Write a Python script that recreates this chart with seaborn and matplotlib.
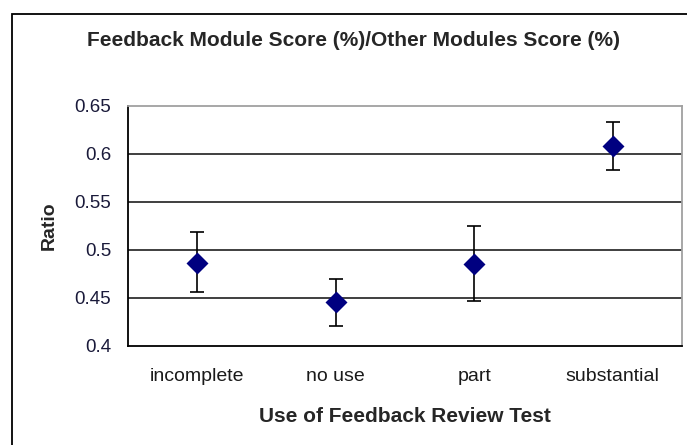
import numpy as np
import pandas as pd
import matplotlib
matplotlib.use('Agg')
import matplotlib.pyplot as plt
import seaborn as sns
from matplotlib.patches import Rectangle

# Data
categories = ['incomplete', 'no use', 'part', 'substantial']
ratio = [0.486, 0.446, 0.485, 0.608]
err_low = [0.456, 0.421, 0.447, 0.583]
err_high = [0.519, 0.470, 0.525, 0.633]
y_ticks = [0.4, 0.45, 0.5, 0.55, 0.6, 0.65]
y_tick_labels = ['0.4', '0.45', '0.5', '0.55', '0.6', '0.65']

sns.set_style("white")
plt.rcParams['font.family'] = ['Liberation Sans', 'DejaVu Sans']

df = pd.DataFrame({'category': categories, 'ratio': ratio,
                   'low': err_low, 'high': err_high})

fig = plt.figure(figsize=(6.87, 4.45), dpi=100)
ax = fig.add_axes([0.1863, 0.2225, 0.8064, 0.5393])

# gridlines behind
for yv in y_ticks[1:-1]:
    ax.axhline(yv, color='#303030', lw=1.3, zorder=0)

pos = np.arange(len(categories))
yerr = np.array([df['ratio'] - df['low'], df['high'] - df['ratio']])
ax.errorbar(pos, df['ratio'], yerr=yerr, fmt='none', ecolor='black',
            elinewidth=1.2, capsize=4.8, capthick=1.2, zorder=2)
sns.pointplot(data=df, x='category', y='ratio', linestyle='none', markers='D',
              color='#000080', markersize=9.5, ax=ax, zorder=3)

ax.set_xlim(-0.5, len(categories) - 0.5)
ax.set_ylim(0.4, 0.65)
ax.set_yticks(y_ticks)
ax.set_yticklabels(y_tick_labels, fontsize=13.5, color='#1a1a3a')
ax.set_xticks(pos)
ax.set_xticklabels(categories, fontsize=14, color='#1a1a1a')
ax.set_xticks(np.arange(-0.5, len(categories)), minor=True)
ax.tick_params(axis='x', which='major', length=0, pad=16)
ax.tick_params(axis='x', which='minor', length=5, width=1.2, direction='out', color='black')
ax.tick_params(axis='y', which='major', length=5, width=1.2, direction='out', color='black', pad=7)

for side in ['left', 'bottom']:
    ax.spines[side].set_color('black')
    ax.spines[side].set_linewidth(1.3)
for side in ['top', 'right']:
    ax.spines[side].set_color('#a0a0a0')
    ax.spines[side].set_linewidth(1.3)

ax.set_xlabel('Use of Feedback Review Test', fontsize=15, fontweight='bold', labelpad=16)
ax.set_ylabel('Ratio', fontsize=14, fontweight='bold', labelpad=12)

fig.text(0.515, 0.908, 'Feedback Module Score (%)/Other Modules Score (%)',
         ha='center', va='center', fontsize=15, fontweight='bold')

# outer chart border
fig.patches.append(Rectangle((11.5 / 687, -0.1), 1.2, 1.1 - 13.5 / 445,
                             transform=fig.transFigure, fill=False,
                             edgecolor='black', lw=1.3))

fig.savefig('out.png', dpi=100)
plt.close(fig)
